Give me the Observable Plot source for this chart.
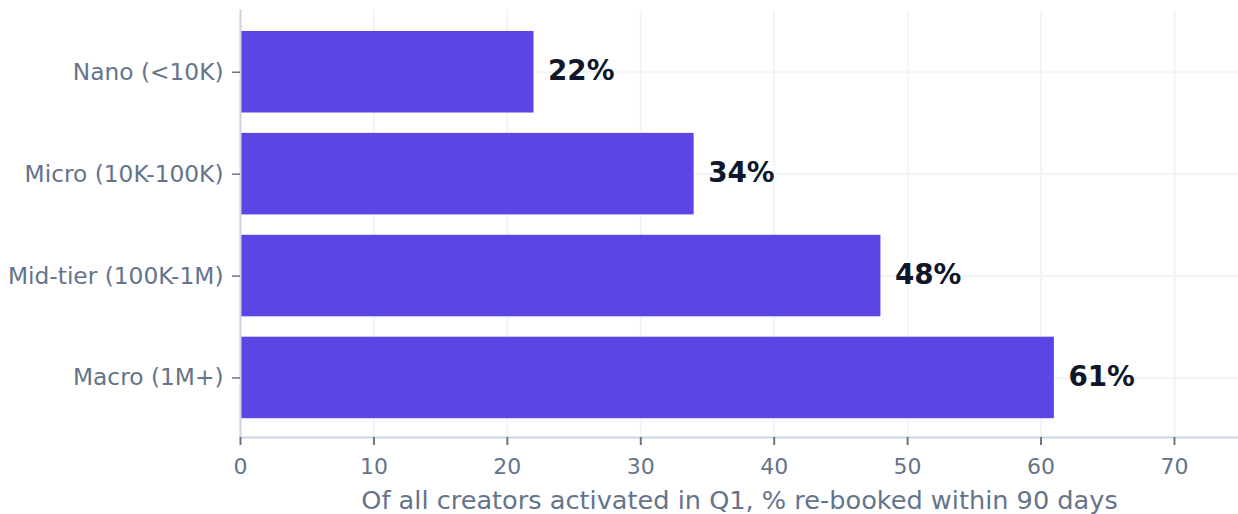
<!DOCTYPE html>
<html>
<head>
<meta charset="utf-8">
<script src="https://cdn.jsdelivr.net/npm/d3@7"></script>
<script src="https://cdn.jsdelivr.net/npm/@observablehq/plot@0.6"></script>
<style>
  html, body { margin: 0; padding: 0; background: #ffffff; }
  #chart svg { display: block; }
</style>
</head>
<body>
<div id="chart"></div>
<script>
const categories = ["Nano (<10K)", "Micro (10K-100K)", "Mid-tier (100K-1M)", "Macro (1M+)"];
const values = [22, 34, 48, 61];
const valueLabels = ["22%", "34%", "48%", "61%"];
const xTicks = [0, 10, 20, 30, 40, 50, 60, 70];
const xLabel = "Of all creators activated in Q1, % re-booked within 90 days";

const data = categories.map((c, i) => ({tier: c, value: values[i], label: valueLabels[i]}));

const chart = Plot.plot({
  width: 1238,
  height: 514,
  marginTop: 10,
  marginLeft: 240,
  marginRight: 0,
  marginBottom: 77,
  style: {fontFamily: "'DejaVu Sans', sans-serif", background: "#ffffff"},
  x: {domain: [0, 74.8], ticks: xTicks},
  y: {domain: categories, range: [20.8, 428.4], paddingInner: 0.2, paddingOuter: 0.1, round: false},
  marks: [
    Plot.gridX(xTicks, {stroke: "#f1f5f9", strokeOpacity: 1, strokeWidth: 2}),
    Plot.gridY({stroke: "#f1f5f9", strokeOpacity: 1, strokeWidth: 2}),
    Plot.barX(data, {x: "value", y: "tier", fill: "#5b46e5"}),
    Plot.frame({anchor: "left", stroke: "#cbd5e1", strokeWidth: 2}),
    Plot.frame({anchor: "bottom", stroke: "#cbd5e1", strokeWidth: 2}),
    Plot.axisY({tickSize: 8, tickPadding: 9, fontSize: 23.3, stroke: "#64748b", strokeWidth: 1.5, fill: "#64748b", label: null}),
    Plot.axisX(xTicks, {tickSize: 8, tickPadding: 13, fontSize: 22, stroke: "#64748b", strokeWidth: 2, fill: "#64748b", label: null}),
    Plot.text([xLabel], {frameAnchor: "bottom", dy: 71, fontSize: 25.6, fill: "#64748b", textAnchor: "middle"}),
    Plot.text(data, {x: "value", y: "tier", text: "label", dx: 14, dy: -1, textAnchor: "start", fontWeight: "bold", fontSize: 27.8, fill: "#0f172a"})
  ]
});
document.getElementById("chart").appendChild(chart);
</script>
</body>
</html>
